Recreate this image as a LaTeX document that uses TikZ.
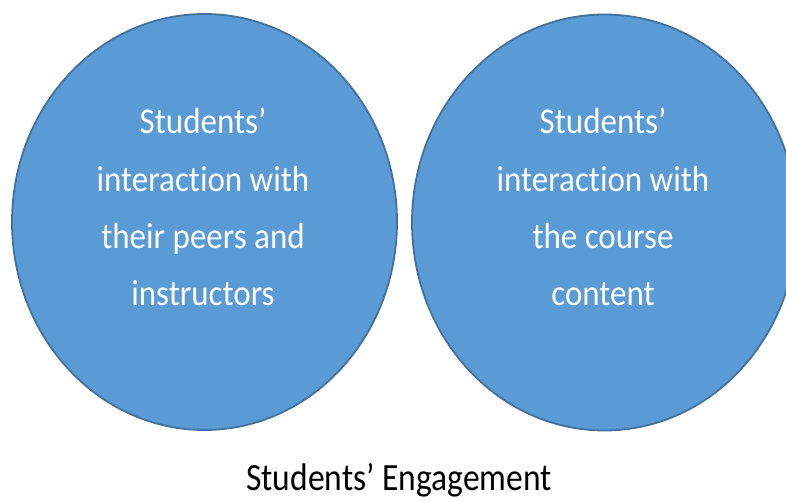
\documentclass[tikz,border=0pt]{standalone}
\usepackage{fontspec}
\setmainfont{Carlito}[Ligatures=CommonOff]
\usetikzlibrary{shapes.geometric}
\definecolor{bubblefill}{HTML}{5B9BD5}
\definecolor{bubbleline}{HTML}{41719C}
\begin{document}
\begin{tikzpicture}[x=1pt,y=1pt,
  bubble/.style={ellipse, draw=bubbleline, fill=bubblefill, line width=1.8pt,
    minimum width=385pt, minimum height=416pt, inner sep=0pt},
  bubbletext/.style={text=white, align=center, inner sep=0pt, yscale=1.1,
    font=\fontsize{33}{52}\selectfont},
  caption/.style={text=black, inner sep=0pt, yscale=1.15,
    font=\fontsize{33.5}{40}\selectfont}]
\useasboundingbox (0,0) rectangle (786,501);
\clip (0,0) rectangle (786,501);
\node[bubble] (left) at (204.5,279) {};
\node[bubble] (right) at (604.5,278.5) {};
\node[bubbletext] (lefttext) at (203,294) {Students’\\interaction with\\their peers and\\instructors};
\node[bubbletext] (righttext) at (603,294) {Students’\\interaction with\\the course\\content};
\node[caption, anchor=base] (engagement) at (399,11) {Students’ Engagement};
\end{tikzpicture}
\end{document}
